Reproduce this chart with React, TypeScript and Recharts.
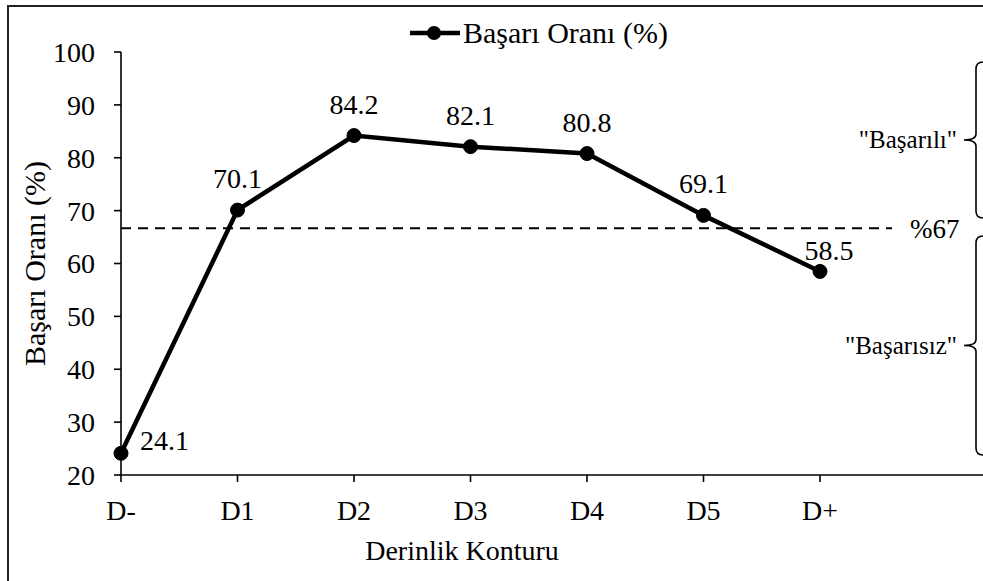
import { LineChart, Line, XAxis, YAxis, ReferenceLine, LabelList } from 'recharts';

// Depth contour categories and the success rate measured for each
const categories = ['D-', 'D1', 'D2', 'D3', 'D4', 'D5', 'D+'];
const successRates = [24.1, 70.1, 84.2, 82.1, 80.8, 69.1, 58.5];
const yTicks = [20, 30, 40, 50, 60, 70, 80, 90, 100];
const threshold = 66.67;
const thresholdText = '%67';
const seriesName = 'Başarı Oranı (%)';

const data = categories.map((name, i) => ({ name, rate: successRates[i] }));

const FONT = 'Liberation Serif, Tinos, DejaVu Serif, serif';

function PointLabel(props: any) {
  const { x, y, value, index } = props;
  if (index === 0) {
    return (
      <text x={x + 19} y={y - 3} style={{ fontFamily: FONT }} fontSize={28} fill="#000">
        {value}
      </text>
    );
  }
  const last = index === successRates.length - 1;
  return (
    <text
      x={x + (last ? 9 : 0)}
      y={y - (last ? 11 : 22)}
      textAnchor="middle"
      style={{ fontFamily: FONT }}
      fontSize={28}
      fill="#000"
    >
      {value}
    </text>
  );
}

function ThresholdLine(props: any) {
  const { x1, y1, y2 } = props;
  return (
    <g>
      <line x1={x1} y1={y1} x2={892} y2={y2} stroke="#000" strokeWidth={2} strokeDasharray="10 7" />
      <text x={910} y={y1 + 10} style={{ fontFamily: FONT }} fontSize={27} fill="#000">
        {thresholdText}
      </text>
    </g>
  );
}

// curly brace opening to the right, tip pointing left at its middle
function Brace({ top, bottom, label }: { top: number; bottom: number; label: string }) {
  const x = 976;
  const mid = (top + bottom) / 2;
  const d = `M983,${top} Q${x},${top} ${x},${top + 7} L${x},${mid - 6} Q${x},${mid} ${x - 12},${mid} Q${x},${mid} ${x},${mid + 6} L${x},${bottom - 7} Q${x},${bottom} 983,${bottom}`;
  return (
    <g>
      <path d={d} fill="none" stroke="#000" strokeWidth={1.6} />
      <text x={957} y={mid + 8} textAnchor="end" style={{ fontFamily: FONT }} fontSize={25} fill="#000">
        {label}
      </text>
    </g>
  );
}

export default function App() {
  return (
    <div
      style={{
        position: 'absolute',
        left: 0,
        top: 0,
        width: 983,
        height: 581,
        overflow: 'hidden',
        background: '#fff',
        fontFamily: FONT,
      }}
    >
      <div
        style={{
          position: 'absolute',
          left: 7,
          top: 5,
          width: 1100,
          height: 700,
          borderLeft: '2px solid #222',
          borderTop: '2px solid #222',
        }}
      />
      <LineChart
        width={983}
        height={581}
        data={data}
        margin={{ top: 52, right: 0, bottom: 0, left: 0 }}
        style={{ position: 'absolute', left: 0, top: 0 }}
      >
        <XAxis
          dataKey="name"
          height={106}
          padding={{ left: 0, right: 163 }}
          axisLine={{ stroke: '#000', strokeWidth: 1.6 }}
          tickLine={{ stroke: '#000', strokeWidth: 1.6 }}
          tickSize={7}
          tickMargin={18}
          tick={{ fill: '#000', style: { fontFamily: FONT }, fontSize: 28 }}
          interval={0}
          label={{
            content: (p: any) => (
              <text
                x={462}
                y={p.viewBox.y + 85}
                textAnchor="middle"
                style={{ fontFamily: FONT }}
                fontSize={28}
                fill="#000"
              >
                Derinlik Konturu
              </text>
            ),
          }}
        />
        <YAxis
          width={121}
          domain={[20, 100]}
          ticks={yTicks}
          interval={0}
          axisLine={{ stroke: '#000', strokeWidth: 1.6 }}
          tickLine={{ stroke: '#000', strokeWidth: 1.6 }}
          tickSize={7}
          tickMargin={19}
          tick={{ fill: '#000', style: { fontFamily: FONT }, fontSize: 28 }}
          label={{
            content: (p: any) => (
              <text
                x={0}
                y={0}
                transform={`translate(45, ${p.viewBox.y + p.viewBox.height / 2}) rotate(-90)`}
                textAnchor="middle"
                style={{ fontFamily: FONT }}
                fontSize={30}
                fill="#000"
              >
                {seriesName}
              </text>
            ),
          }}
        />
        <ReferenceLine y={threshold} shape={<ThresholdLine />} />
        <Line
          type="linear"
          dataKey="rate"
          name={seriesName}
          stroke="#000"
          strokeWidth={4.5}
          dot={{ r: 7, fill: '#000', stroke: '#000', strokeWidth: 1 }}
          isAnimationActive={false}
        >
          <LabelList dataKey="rate" content={<PointLabel />} />
        </Line>
      </LineChart>
      <svg
        width={983}
        height={581}
        style={{ position: 'absolute', left: 0, top: 0, pointerEvents: 'none' }}
      >
        {/* legend entry */}
        <line x1={410} y1={33} x2={460} y2={33} stroke="#000" strokeWidth={4.5} />
        <circle cx={434} cy={33} r={7} fill="#000" />
        <text x={463} y={43} style={{ fontFamily: FONT }} fontSize={30} fill="#000">
          {seriesName}
        </text>
        <Brace top={62} bottom={218} label={'"Başarılı"'} />
        <Brace top={236} bottom={455} label={'"Başarısız"'} />
      </svg>
    </div>
  );
}
